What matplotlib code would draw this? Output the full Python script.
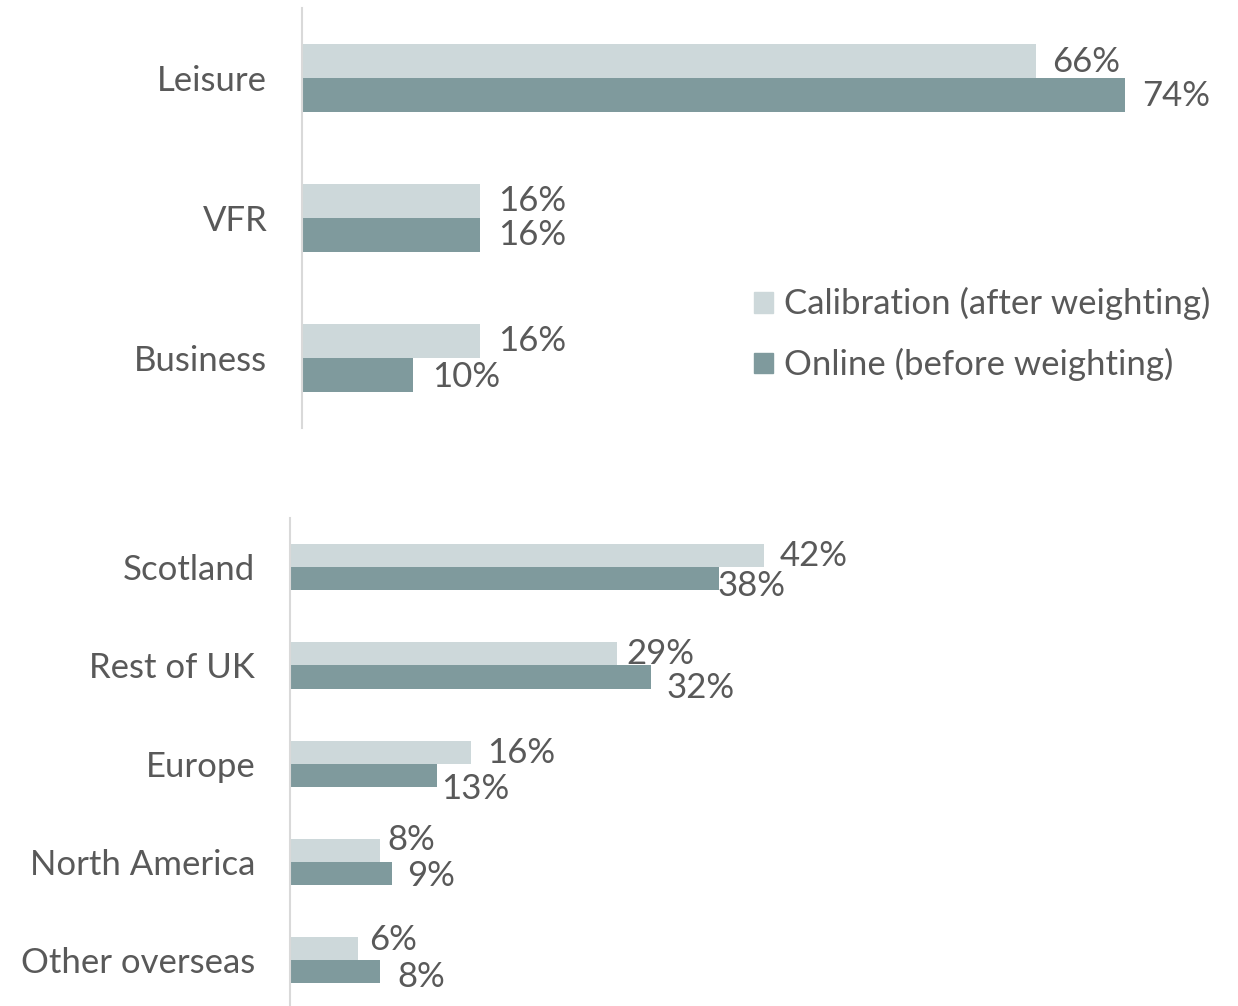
import matplotlib
matplotlib.use("Agg")
import matplotlib.pyplot as plt
from matplotlib.patches import Patch
import numpy as np

plt.rcParams['font.family'] = ['Lato', 'DejaVu Sans']

# data
purpose = ['Leisure', 'VFR', 'Business']
purpose_calib = [66, 16, 16]
purpose_online = [74, 16, 10]

origin = ['Scotland', 'Rest of UK', 'Europe', 'North America', 'Other overseas']
origin_calib = [42, 29, 16, 8, 6]
origin_online = [38, 32, 13, 9, 8]

series_names = ['Calibration (after weighting)', 'Online (before weighting)']

LIGHT = '#CDD8DA'
DARK = '#7F9A9D'
TXT = '#595959'
FS = 25

# label nudges in pixels (dx, dy) - hand placed like the original
top_off_c = [(16, -1), (18, 0), (18, 0)]
top_off_o = [(17, -1), (18, 0), (19, -2)]
bot_off_c = [(16, 0), (9, 0), (17, -1), (7, 10), (11, 9)]
bot_off_o = [(-1, -7), (15, -11), (4, -14), (16, -2), (17, -5)]

W, H = 1238, 1006
fig = plt.figure(figsize=(W / 100, H / 100), dpi=100)

ax1 = fig.add_axes([302 / W, 1 - 428 / H, 890 / W, 420 / H])
ax2 = fig.add_axes([290 / W, 1 - 1009.5 / H, 903 / W, 491.5 / H])


def draw(ax, cats, calib, online, bh, off_c, off_o):
    y = np.arange(len(cats))
    ax.barh(y - bh / 2, calib, height=bh, color=LIGHT, label=series_names[0])
    ax.barh(y + bh / 2, online, height=bh, color=DARK, label=series_names[1])
    for i in range(len(cats)):
        ax.annotate('%d%%' % calib[i], (calib[i], y[i] - bh / 2),
                    xytext=off_c[i], textcoords='offset pixels',
                    ha='left', va='center', fontsize=FS, color=TXT)
        ax.annotate('%d%%' % online[i], (online[i], y[i] + bh / 2),
                    xytext=off_o[i], textcoords='offset pixels',
                    ha='left', va='center', fontsize=FS, color=TXT)
    ax.set_yticks(y)
    ax.set_yticklabels(cats, fontsize=FS, color=TXT)
    ax.set_ylim(len(cats) - 0.5, -0.5)
    ax.set_xlim(0, 80)
    ax.set_xticks([])
    ax.tick_params(axis='y', length=0, pad=25)
    for s in ['top', 'right', 'bottom']:
        ax.spines[s].set_visible(False)
    ax.spines['left'].set_color('#D9D9D9')
    ax.spines['left'].set_linewidth(1.5)
    ax.patch.set_visible(False)


draw(ax1, purpose, purpose_calib, purpose_online, 0.24, top_off_c, top_off_o)
draw(ax2, origin, origin_calib, origin_online, 0.235, bot_off_c, bot_off_o)

handles = [Patch(color=LIGHT), Patch(color=DARK)]
leg = fig.legend(handles, series_names, loc='upper left',
                 bbox_to_anchor=(723 / W, 1 - 256 / H), frameon=False,
                 fontsize=FS, handlelength=0.55, handleheight=0.55,
                 handletextpad=0.3, labelspacing=0.8, labelcolor=TXT)

fig.savefig('out.png', dpi=100)
